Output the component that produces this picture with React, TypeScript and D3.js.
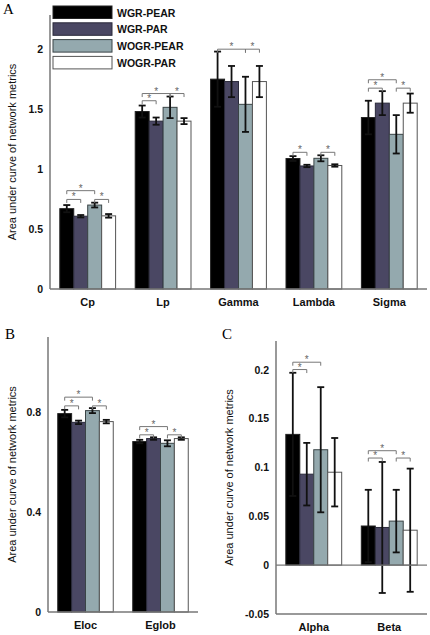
import React from "react";
import * as d3 from "d3";

const series = ["WGR-PEAR", "WGR-PAR", "WOGR-PEAR", "WOGR-PAR"];
const colors = ["#000000", "#4a4763", "#94a9ae", "#ffffff"];
const strokes = ["#222222", "#2a2a3a", "#3a4446", "#555555"];

const catsA = ["Cp", "Lp", "Gamma", "Lambda", "Sigma"];
const meansA = [
  [0.67, 0.607, 0.70, 0.61],
  [1.48, 1.40, 1.515, 1.40],
  [1.75, 1.73, 1.54, 1.73],
  [1.088, 1.026, 1.09, 1.03],
  [1.43, 1.55, 1.29, 1.55],
];
const errsA = [
  [0.03, 0.01, 0.02, 0.015],
  [0.05, 0.03, 0.09, 0.025],
  [0.23, 0.13, 0.23, 0.13],
  [0.02, 0.01, 0.025, 0.01],
  [0.14, 0.10, 0.16, 0.08],
];
const sigA: [string, number, number, number][] = [
  ["Cp", 0, 1, 0.747], ["Cp", 0, 2, 0.82], ["Cp", 2, 3, 0.747],
  ["Lp", 0, 1, 1.57], ["Lp", 0, 2, 1.63], ["Lp", 2, 3, 1.63],
  ["Gamma", 0, 2, 2.0], ["Gamma", 2, 3, 2.0],
  ["Lambda", 0, 1, 1.14], ["Lambda", 2, 3, 1.14],
  ["Sigma", 0, 1, 1.675], ["Sigma", 0, 2, 1.745], ["Sigma", 2, 3, 1.675],
];
const ticksA = [0, 0.5, 1, 1.5, 2];
const tickLabelsA = ["0", "0.5", "1", "1.5", "2"];

const catsB = ["Eloc", "Eglob"];
const meansB = [
  [0.795, 0.76, 0.807, 0.763],
  [0.683, 0.695, 0.676, 0.695],
];
const errsB = [
  [0.015, 0.007, 0.01, 0.007],
  [0.007, 0.005, 0.012, 0.005],
];
const sigB: [string, number, number, number][] = [
  ["Eloc", 0, 1, 0.826], ["Eloc", 0, 2, 0.861], ["Eloc", 2, 3, 0.826],
  ["Eglob", 0, 1, 0.71], ["Eglob", 0, 2, 0.743], ["Eglob", 2, 3, 0.71],
];
const ticksB = [0, 0.4, 0.8];
const tickLabelsB = ["0", "0.4", "0.8"];

const catsC = ["Alpha", "Beta"];
const meansC = [
  [0.1337, 0.093, 0.118, 0.095],
  [0.040, 0.0385, 0.045, 0.0357],
];
const errsC = [
  [0.063, 0.032, 0.064, 0.035],
  [0.037, 0.067, 0.032, 0.063],
];
const sigC: [string, number, number, number][] = [
  ["Alpha", 0, 1, 0.2], ["Alpha", 0, 2, 0.2075],
  ["Beta", 0, 1, 0.1095], ["Beta", 0, 2, 0.117], ["Beta", 2, 3, 0.1095],
];
const ticksC = [-0.05, 0, 0.05, 0.1, 0.15, 0.2];
const tickLabelsC = ["-0.05", "0", "0.05", "0.1", "0.15", "0.2"];

const yTitle = "Area under curve of network metrics";
const FONT = "Arial, 'Liberation Sans', sans-serif";

type PanelProps = {
  cats: string[];
  means: number[][];
  errs: number[][];
  sig: [string, number, number, number][];
  ticks: number[];
  tickLabels: string[];
  domain: [number, number];
  x0: number;
  x1: number;
  yTop: number;
  yBottom: number;
  titleX: number;
  letter: string;
  letterX: number;
  letterY: number;
};

function Panel(p: PanelProps) {
  const x = d3.scaleBand().domain(p.cats).range([p.x0, p.x1]).paddingInner(0.26).paddingOuter(0.13);
  const xi = d3.scaleBand().domain(series).range([0, x.bandwidth()]);
  const y = d3.scaleLinear().domain(p.domain).range([p.yBottom, p.yTop]);
  const base = y(Math.max(0, p.domain[0]));
  const cx = (c: string, s: number) => (x(c) as number) + (xi(series[s]) as number) + xi.bandwidth() / 2;
  const capW = 3.5;
  return (
    <g>
      <text x={p.letterX} y={p.letterY} fontFamily="'Liberation Serif', 'Times New Roman', serif" fontSize={15}>
        {p.letter}
      </text>
      {p.cats.map((c, ci) => (
        <g key={c}>
          {series.map((s, si) => {
            const v = p.means[ci][si];
            const yv = y(v);
            return (
              <rect
                key={s}
                x={(x(c) as number) + (xi(s) as number)}
                y={Math.min(yv, base)}
                width={xi.bandwidth()}
                height={Math.abs(base - yv)}
                fill={colors[si]}
                stroke={strokes[si]}
                strokeWidth={1}
              />
            );
          })}
          {series.map((s, si) => {
            const v = p.means[ci][si];
            const e = p.errs[ci][si];
            const xc = cx(c, si);
            const yt = y(v + e);
            const yb = y(v - e);
            return (
              <g key={s} stroke="#111" strokeWidth={1.8}>
                <line x1={xc} x2={xc} y1={yt} y2={yb} />
                <line x1={xc - capW} x2={xc + capW} y1={yt} y2={yt} />
                <line x1={xc - capW} x2={xc + capW} y1={yb} y2={yb} />
              </g>
            );
          })}
          <text
            x={(x(c) as number) + x.bandwidth() / 2}
            y={p.yBottom + 17}
            textAnchor="middle"
            fontFamily={FONT}
            fontSize={11}
            fontWeight="bold"
            fill="#111"
          >
            {c}
          </text>
        </g>
      ))}
      {p.sig.map(([c, a, b, v], i) => {
        const xa = cx(c, a);
        const xb = cx(c, b);
        const yy = y(v);
        return (
          <g key={i}>
            <path
              d={`M${xa},${yy + 3.5}V${yy}H${xb}V${yy + 3.5}`}
              fill="none"
              stroke="#777"
              strokeWidth={1}
            />
            <text x={(xa + xb) / 2} y={yy + 1} textAnchor="middle" fontFamily={FONT} fontSize={10} fill="#666">
              *
            </text>
          </g>
        );
      })}
      {p.ticks.map((t, i) => (
        <text
          key={i}
          x={p.x0 - 7}
          y={y(t) + 4}
          textAnchor="end"
          fontFamily={FONT}
          fontSize={10.5}
          fontWeight="bold"
          fill="#111"
        >
          {p.tickLabels[i]}
        </text>
      ))}
      {p.domain[0] < 0 && (
        <line x1={p.x0} x2={p.x1} y1={y(0)} y2={y(0)} stroke="#777" strokeWidth={1.2} />
      )}
      <line x1={p.x0} x2={p.x0} y1={p.yTop} y2={p.yBottom} stroke="#777" strokeWidth={1.5} />
      <line x1={p.x0} x2={p.x1} y1={p.yBottom} y2={p.yBottom} stroke="#777" strokeWidth={1.5} />
      <text
        transform={`translate(${p.titleX},${(p.yTop + p.yBottom) / 2}) rotate(-90)`}
        textAnchor="middle"
        fontFamily={FONT}
        fontSize={11}
        fill="#111"
      >
        {yTitle}
      </text>
    </g>
  );
}

export default function App() {
  return (
    <svg width={430} height={635} style={{ position: "absolute", left: 0, top: 0, background: "#fff" }}>
      <rect width={430} height={635} fill="#fff" />
      <Panel
        cats={catsA}
        means={meansA}
        errs={errsA}
        sig={sigA}
        ticks={ticksA}
        tickLabels={tickLabelsA}
        domain={[0, 2.285]}
        x0={50}
        x1={427}
        yTop={15}
        yBottom={289}
        titleX={16}
        letter="A"
        letterX={3}
        letterY={14}
      />
      <Panel
        cats={catsB}
        means={meansB}
        errs={errsB}
        sig={sigB}
        ticks={ticksB}
        tickLabels={tickLabelsB}
        domain={[0, 1.102]}
        x0={48}
        x1={198}
        yTop={337}
        yBottom={612}
        titleX={16}
        letter="B"
        letterX={5}
        letterY={339}
      />
      <Panel
        cats={catsC}
        means={meansC}
        errs={errsC}
        sig={sigC}
        ticks={ticksC}
        tickLabels={tickLabelsC}
        domain={[-0.05, 0.2292]}
        x0={276}
        x1={427}
        yTop={341}
        yBottom={614}
        titleX={233}
        letter="C"
        letterX={222}
        letterY={339}
      />
      {series.map((s, i) => (
        <g key={s}>
          <rect x={53} y={6 + i * 16.8} width={59} height={12.5} fill={colors[i]} stroke={strokes[i]} strokeWidth={1} />
          <text x={117} y={16.5 + i * 16.8} fontFamily={FONT} fontSize={10.5} fontWeight="bold" fill="#111">
            {s}
          </text>
        </g>
      ))}
    </svg>
  );
}
